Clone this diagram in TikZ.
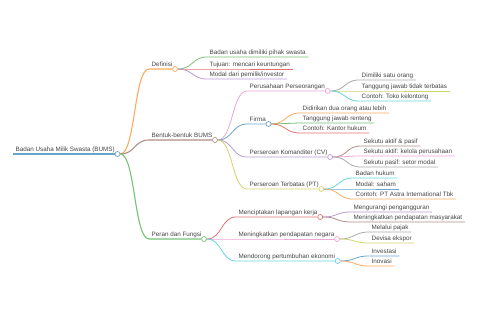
\documentclass[tikz,border=0pt]{standalone}
\usepackage{fontspec}
\setmainfont{Liberation Sans}
\definecolor{ink}{HTML}{444444}
\definecolor{cblue}{HTML}{6AA4CD}
\definecolor{corange}{HTML}{FFAA5E}
\definecolor{cgreen}{HTML}{77C277}
\definecolor{cred}{HTML}{E47172}
\definecolor{cpurple}{HTML}{B99BD3}
\definecolor{cbrown}{HTML}{B18E87}
\definecolor{cpink}{HTML}{EDA5D6}
\definecolor{cgray}{HTML}{ABABAB}
\definecolor{colive}{HTML}{D3D46C}
\definecolor{ccyan}{HTML}{66D4E0}
\tikzset{
  topic/.style={anchor=south west,inner xsep=2.5pt,inner ysep=2.3pt,text depth=0pt,font=\fontsize{6.3}{7}\selectfont,text=ink},
  knob/.style={circle,draw,fill=white,inner sep=0pt,minimum size=5pt,line width=0.7pt},
  trunk/.style={line width=1.7pt},
  limb/.style={line width=1.1pt},
  twig/.style={line width=0.8pt},
  link/.style={to path={.. controls +(15,0) and +(-15,0) .. (\tikztotarget)}}
}

\begin{document}
\begin{tikzpicture}[x=1pt,y=-1pt]
\useasboundingbox (0,0) rectangle (480,320);

\node[topic] (bums) at (13,154) {Badan Usaha Milik Swasta (BUMS)};
\node[knob,draw=cblue] (bumsc) at (bums.south east) {};

\node[topic] (def) at (149,69) {Definisi};
\node[knob,draw=corange] (defc) at (def.south east) {};
\node[topic] (bentuk) at (149,140) {Bentuk-bentuk BUMS};
\node[knob,draw=cbrown] (bentukc) at (bentuk.south east) {};
\node[topic] (peran) at (149,239) {Peran dan Fungsi};
\node[knob,draw=cgreen] (peranc) at (peran.south east) {};

\node[topic] (def1) at (207,57) {Badan usaha dimiliki pihak swasta};
\node[topic] (def2) at (207,69) {Tujuan: mencari keuntungan};
\node[topic] (def3) at (207,79) {Modal dari pemilik/investor};

\node[topic] (pp) at (247,91) {Perusahaan Perseorangan};
\node[knob,draw=cpink] (ppc) at (pp.south east) {};
\node[topic] (firma) at (247,124) {Firma};
\node[knob,draw=cblue] (firmac) at (firma.south east) {};
\node[topic] (cv) at (247,157) {Perseroan Komanditer (CV)};
\node[knob,draw=cpurple] (cvc) at (cv.south east) {};
\node[topic] (pt) at (247,189) {Perseroan Terbatas (PT)};
\node[knob,draw=colive] (ptc) at (pt.south east) {};

\node[topic] (pp1) at (359,80) {Dimiliki satu orang};
\node[topic] (pp2) at (359,91) {Tanggung jawab tidak terbatas};
\node[topic] (pp3) at (359,101) {Contoh: Toko kelontong};
\node[topic] (firma1) at (300,113) {Didirikan dua orang atau lebih};
\node[topic] (firma2) at (300,123) {Tanggung jawab renteng};
\node[topic] (firma3) at (300,133) {Contoh: Kantor hukum};
\node[topic] (cv1) at (361,146) {Sekutu aktif \& pasif};
\node[topic] (cv2) at (361,156) {Sekutu aktif: kelola perusahaan};
\node[topic] (cv3) at (361,167) {Sekutu pasif: setor modal};
\node[topic] (pt1) at (353,178) {Badan hukum};
\node[topic] (pt2) at (353,189) {Modal: saham};
\node[topic] (pt3) at (353,199) {Contoh: PT Astra International Tbk};

\node[topic] (kerja) at (236,217) {Menciptakan lapangan kerja};
\node[knob,draw=cred] (kerjac) at (kerja.south east) {};
\node[topic] (negara) at (236,239) {Meningkatkan pendapatan negara};
\node[knob,draw=cpink] (negarac) at (negara.south east) {};
\node[topic] (ekonomi) at (236,261) {Mendorong pertumbuhan ekonomi};
\node[knob,draw=ccyan] (ekonomic) at (ekonomi.south east) {};

\node[topic] (kerja1) at (351,212) {Mengurangi pengangguran};
\node[topic] (kerja2) at (351,222) {Meningkatkan pendapatan masyarakat};
\node[topic] (negara1) at (369,232) {Melalui pajak};
\node[topic] (negara2) at (369,243) {Devisa ekspor};
\node[topic] (ekonomi1) at (369,256) {Investasi};
\node[topic] (ekonomi2) at (369,266) {Inovasi};

\draw[trunk,cblue] (bums.south west) -- (bumsc.west);
\draw[limb,corange] (bumsc.east) to[link] (def.south west) -- (defc.west);
\draw[limb,cbrown] (bumsc.east) to[link] (bentuk.south west) -- (bentukc.west);
\draw[limb,cgreen] (bumsc.east) to[link] (peran.south west) -- (peranc.west);

\draw[twig,cgreen] (defc.east) to[link] (def1.south west) -- (def1.south east);
\draw[twig,cred] (defc.east) to[link] (def2.south west) -- (def2.south east);
\draw[twig,cpurple] (defc.east) to[link] (def3.south west) -- (def3.south east);

\draw[twig,cpink] (bentukc.east) to[link] (pp.south west) -- (ppc.west);
\draw[twig,cblue] (bentukc.east) to[link] (firma.south west) -- (firmac.west);
\draw[twig,cpurple] (bentukc.east) to[link] (cv.south west) -- (cvc.west);
\draw[twig,colive] (bentukc.east) to[link] (pt.south west) -- (ptc.west);

\draw[twig,cgray] (ppc.east) to[link] (pp1.south west) -- (pp1.south east);
\draw[twig,colive] (ppc.east) to[link] (pp2.south west) -- (pp2.south east);
\draw[twig,ccyan] (ppc.east) to[link] (pp3.south west) -- (pp3.south east);
\draw[twig,corange] (firmac.east) to[link] (firma1.south west) -- (firma1.south east);
\draw[twig,cgreen] (firmac.east) to[link] (firma2.south west) -- (firma2.south east);
\draw[twig,cred] (firmac.east) to[link] (firma3.south west) -- (firma3.south east);
\draw[twig,cbrown] (cvc.east) to[link] (cv1.south west) -- (cv1.south east);
\draw[twig,cpink] (cvc.east) to[link] (cv2.south west) -- (cv2.south east);
\draw[twig,cgray] (cvc.east) to[link] (cv3.south west) -- (cv3.south east);
\draw[twig,ccyan] (ptc.east) to[link] (pt1.south west) -- (pt1.south east);
\draw[twig,cblue] (ptc.east) to[link] (pt2.south west) -- (pt2.south east);
\draw[twig,corange] (ptc.east) to[link] (pt3.south west) -- (pt3.south east);

\draw[twig,cred] (peranc.east) to[link] (kerja.south west) -- (kerjac.west);
\draw[twig,cpink] (peranc.east) to[link] (negara.south west) -- (negarac.west);
\draw[twig,ccyan] (peranc.east) to[link] (ekonomi.south west) -- (ekonomic.west);

\draw[twig,cpurple] (kerjac.east) to[link] (kerja1.south west) -- (kerja1.south east);
\draw[twig,cbrown] (kerjac.east) to[link] (kerja2.south west) -- (kerja2.south east);
\draw[twig,cgray] (negarac.east) to[link] (negara1.south west) -- (negara1.south east);
\draw[twig,colive] (negarac.east) to[link] (negara2.south west) -- (negara2.south east);
\draw[twig,cblue] (ekonomic.east) to[link] (ekonomi1.south west) -- (ekonomi1.south east);
\draw[twig,corange] (ekonomic.east) to[link] (ekonomi2.south west) -- (ekonomi2.south east);

\end{tikzpicture}
\end{document}
